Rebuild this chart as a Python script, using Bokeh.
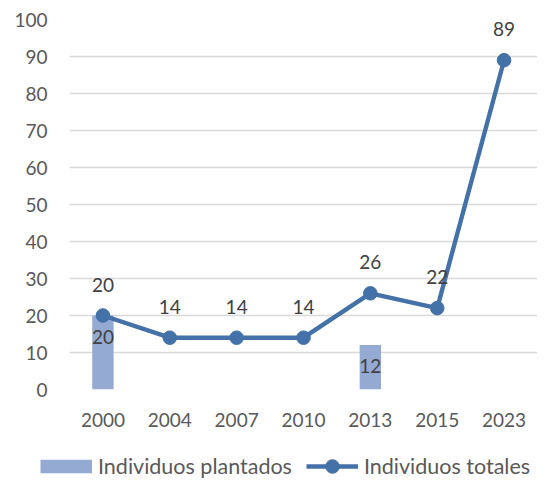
import numpy as np
from bokeh.plotting import figure
from bokeh.layouts import column
from bokeh.models import ColumnDataSource, FactorRange, Range1d, FixedTicker, Legend, LegendItem
from bokeh.core.properties import value
from bokeh.embed import file_html
from bokeh.resources import INLINE

# ---- data ----
years = ["2000", "2004", "2007", "2010", "2013", "2015", "2023"]
plantados = [20, None, None, None, 12, None, None]
totales = [20, 14, 14, 14, 26, 22, 89]
y_ticks = [0, 10, 20, 30, 40, 50, 60, 70, 80, 90, 100]
series_names = ["Individuos plantados", "Individuos totales"]

FONT = "Lato"
FS = "19px"
BAR = "#95AAD2"
LINE = "#4371A8"
TICK = "#595959"
LABEL = "#404040"

plant_arr = np.array([np.nan if v is None else v for v in plantados], dtype=float)
src = ColumnDataSource(dict(year=years, plantados=plant_arr, totales=totales,
                            tot_lbl=[str(v) for v in totales]))
mask = ~np.isnan(plant_arr)
bar_lbl_src = ColumnDataSource(dict(
    year=[y for y, m in zip(years, mask) if m],
    val=plant_arr[mask],
    lbl=[str(int(v)) for v in plant_arr[mask]],
))

p = figure(width=537, height=440,
           x_range=FactorRange(*years), y_range=Range1d(0, 100),
           output_backend="svg", toolbar_location=None,
           min_border_left=69, min_border_right=0,
           min_border_top=19, min_border_bottom=51)
p.frame_align = False
p.outline_line_color = None
p.background_fill_color = "white"
p.border_fill_color = "white"

# grid
p.xgrid.grid_line_color = None
p.ygrid.grid_line_color = "#D9D9D9"
p.ygrid.grid_line_width = 1.5
p.yaxis.ticker = FixedTicker(ticks=y_ticks)

# axes
for ax in (p.xaxis, p.yaxis):
    ax.axis_line_color = None
    ax.major_tick_line_color = None
    ax.minor_tick_line_color = None
    ax.major_tick_out = 0
    ax.major_tick_in = 0
    ax.major_label_text_font = FONT
    ax.major_label_text_font_size = FS
    ax.major_label_text_color = TICK
p.yaxis.major_label_standoff = 22
p.xaxis.major_label_standoff = 23

# bars
bars = p.vbar(x="year", top="plantados", width=0.32, source=src,
              fill_color=BAR, line_color=None)
# line + markers
ln = p.line(x="year", y="totales", source=src, line_color=LINE, line_width=4.4)
mk = p.scatter(x="year", y="totales", source=src, size=13.6,
               fill_color=LINE, line_color=LINE)

# data labels
p.text(x="year", y="totales", text="tot_lbl", source=src,
       text_align="center", text_baseline="middle", y_offset=-31,
       text_font=value(FONT), text_font_size=FS, text_color=LABEL)
p.text(x="year", y="val", text="lbl", source=bar_lbl_src,
       text_align="center", text_baseline="middle", y_offset=21,
       text_font=value(FONT), text_font_size=FS, text_color=LABEL)

# ---- legend strip (separate figure, full width) ----
lg = figure(width=537, height=40, x_range=Range1d(0, 1), y_range=Range1d(0, 1),
            output_backend="svg", toolbar_location=None,
            x_axis_location=None, y_axis_location=None,
            min_border_left=0, min_border_right=0, min_border_top=0, min_border_bottom=0)
lg.frame_align = False
lg.outline_line_color = None
lg.grid.visible = False
lg.background_fill_color = "white"
lg.border_fill_color = "white"

nan_src = ColumnDataSource(dict(x=[np.nan], y=[np.nan]))
sw_bar = lg.line(x="x", y="y", source=nan_src, line_color=BAR, line_width=13.5)
sw_line = lg.line(x="x", y="y", source=nan_src, line_color=LINE, line_width=4.4)
sw_mk = lg.scatter(x="x", y="y", source=nan_src, fill_color=LINE, line_color=LINE)

legend = Legend(items=[LegendItem(label=series_names[0], renderers=[sw_bar]),
                       LegendItem(label=series_names[1], renderers=[sw_line, sw_mk])],
                orientation="horizontal", location=(40, -3),
                glyph_width=52, glyph_height=34, label_standoff=6, spacing=14,
                padding=0, margin=0,
                border_line_color=None, background_fill_alpha=0,
                label_text_font=FONT, label_text_font_size="21.5px",
                label_text_color=TICK)
lg.add_layout(legend, "center")

layout = column(p, lg, spacing=0)
open("out.html", "w").write(file_html(layout, INLINE))
